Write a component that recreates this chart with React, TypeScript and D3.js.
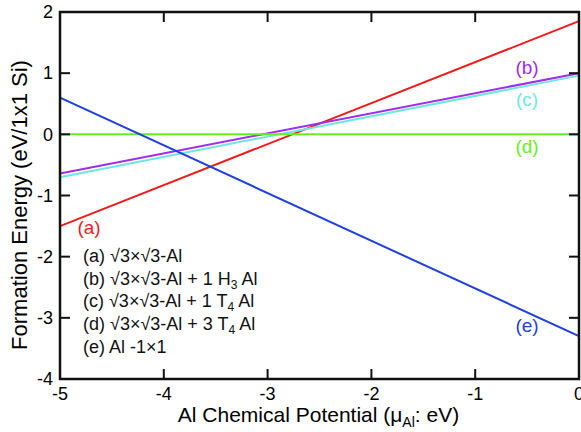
import React, { useEffect, useRef } from 'react';
import * as d3 from 'd3';

// endpoint values read at mu = -5 and mu = 0
const muRange = [-5, 0];
const seriesNames = ['a', 'b', 'c', 'd', 'e'];
const seriesStart = [-1.5, -0.64, -0.7, 0, 0.6];
const seriesEnd = [1.85, 1.0, 0.96, 0, -3.3];
const seriesColors = ['#ee1c1c', '#a02cf0', '#6ee8dc', '#66ee22', '#1f3fe0'];
const xTicks = [-5, -4, -3, -2, -1, 0];
const yTicks = [-4, -3, -2, -1, 0, 1, 2];
const legendLines = [
  ['(a) √3×√3-Al'],
  ['(b) √3×√3-Al + 1 H', '3', ' Al'],
  ['(c) √3×√3-Al + 1 T', '4', ' Al'],
  ['(d) √3×√3-Al + 3 T', '4', ' Al'],
  ['(e) Al -1×1'],
];

export default function App() {
  const ref = useRef<SVGSVGElement>(null);

  useEffect(() => {
    const width = 581;
    const height = 432;
    const margin = { top: 12, right: 2, bottom: 53, left: 60 };
    const innerWidth = width - margin.left - margin.right;
    const innerHeight = height - margin.top - margin.bottom;

    const svg = d3.select(ref.current);
    svg.selectAll('*').remove();
    const g = svg.append('g').attr('transform', `translate(${margin.left}, ${margin.top})`);

    const x = d3.scaleLinear().domain([-5, 0]).range([0, innerWidth]);
    const y = d3.scaleLinear().domain([-4, 2]).range([innerHeight, 0]);

    const font = 'Liberation Sans, Arial, sans-serif';

    // lines
    const lineGen = d3.line<[number, number]>()
      .x(d => x(d[0]))
      .y(d => y(d[1]));

    seriesNames.forEach((name, i) => {
      g.append('path')
        .attr('d', lineGen([[muRange[0], seriesStart[i]], [muRange[1], seriesEnd[i]]]))
        .attr('fill', 'none')
        .attr('stroke', seriesColors[i])
        .attr('stroke-width', 2);
    });

    // frame and ticks
    g.append('rect')
      .attr('width', innerWidth)
      .attr('height', innerHeight)
      .attr('fill', 'none')
      .attr('stroke', '#111')
      .attr('stroke-width', 2.5);

    const tickLen = 10;
    xTicks.forEach(t => {
      g.append('line').attr('x1', x(t)).attr('x2', x(t)).attr('y1', innerHeight).attr('y2', innerHeight - tickLen)
        .attr('stroke', '#111').attr('stroke-width', 2);
      g.append('line').attr('x1', x(t)).attr('x2', x(t)).attr('y1', 0).attr('y2', tickLen)
        .attr('stroke', '#111').attr('stroke-width', 2);
      g.append('text').attr('x', x(t)).attr('y', innerHeight + 21)
        .attr('text-anchor', 'middle').attr('font-family', font).attr('font-size', 18)
        .text(t);
    });
    yTicks.forEach(t => {
      g.append('line').attr('x1', 0).attr('x2', tickLen).attr('y1', y(t)).attr('y2', y(t))
        .attr('stroke', '#111').attr('stroke-width', 2);
      g.append('line').attr('x1', innerWidth).attr('x2', innerWidth - tickLen).attr('y1', y(t)).attr('y2', y(t))
        .attr('stroke', '#111').attr('stroke-width', 2);
      g.append('text').attr('x', -7).attr('y', y(t)).attr('dy', '0.35em')
        .attr('text-anchor', 'end').attr('font-family', font).attr('font-size', 18)
        .text(t);
    });

    // axis titles
    const xt = g.append('text').attr('x', innerWidth / 2 - 1).attr('y', innerHeight + 43)
      .attr('text-anchor', 'middle').attr('font-family', font).attr('font-size', 21);
    xt.append('tspan').text('Al Chemical Potential (μ');
    xt.append('tspan').attr('font-size', 14).attr('dy', 5).text('Al');
    xt.append('tspan').attr('dy', -5).text(': eV)');

    g.append('text')
      .attr('transform', `translate(${-33}, ${193}) rotate(-90)`)
      .attr('text-anchor', 'middle').attr('font-family', font).attr('font-size', 22)
      .text('Formation Energy (eV/1x1 Si)');

    // series labels
    const labelPos: [number, number][] = [[-4.72, -1.52], [-0.5, 1.09], [-0.5, 0.58], [-0.5, -0.2], [-0.5, -3.12]];
    seriesNames.forEach((name, i) => {
      g.append('text').attr('x', x(labelPos[i][0])).attr('y', y(labelPos[i][1])).attr('dy', '0.35em')
        .attr('text-anchor', 'middle').attr('font-family', font).attr('font-size', 19)
        .attr('fill', seriesColors[i])
        .text(`(${name})`);
    });

    // legend text
    legendLines.forEach((parts, i) => {
      const t = g.append('text').attr('x', 23).attr('y', 250 + i * 22.7)
        .attr('font-family', font).attr('font-size', 18).attr('fill', '#111');
      t.append('tspan').text(parts[0]);
      if (parts.length > 1) {
        t.append('tspan').attr('font-size', 12).attr('dy', 4).text(parts[1]);
        t.append('tspan').attr('dy', -4).text(parts[2]);
      }
    });
  }, []);

  return (
    <div>
      <svg ref={ref} width={581} height={432} style={{ position: 'absolute', left: 0, top: 0, background: '#fff' }} />
    </div>
  );
}
